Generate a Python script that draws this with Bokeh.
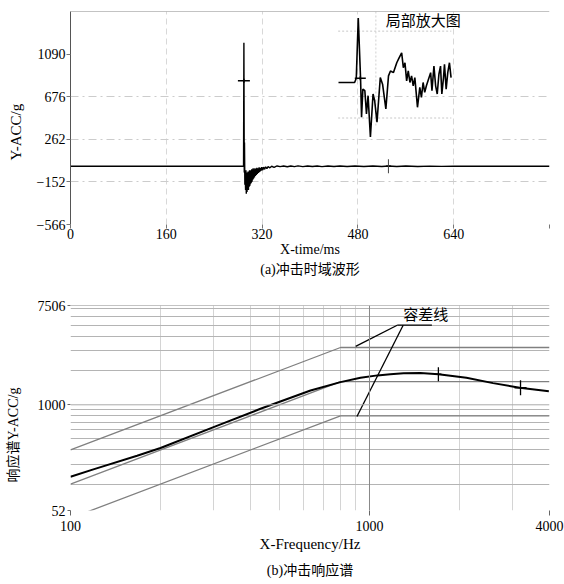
import math
from bokeh.plotting import figure
from bokeh.layouts import column
from bokeh.models import FixedTicker, Label, Span, Title
from bokeh.embed import file_html
from bokeh.resources import INLINE

SERIF = "Liberation Serif"
MIX = "Liberation Serif, Noto Sans CJK SC"
CJK = "Noto Sans CJK SC"

# ---------------- (a) time-domain data ----------------
time_ticks = [0, 160, 320, 480, 640, 800]
acc_ticks = [-566, -152, 262, 676, 1090]

time_ms = [0, 289.0, 289.6, 290.2, 290.6, 291.2, 291.8, 292.4, 293.0, 293.6, 294.2,
           294.8, 295.4, 296.0, 296.6, 297.2, 297.8, 298.4, 299.0, 299.6, 300.2,
           300.8, 301.4, 302.0, 302.6, 303.2, 303.8, 304.4, 305.0, 305.6, 306.4,
           307.2, 308.0, 308.8, 309.6, 310.4, 311.2, 312.0, 313.0, 314.0, 315.0,
           316.0, 317.0, 318.0, 319.5, 321.0, 322.5, 324.0, 326.0, 328.0, 330.0,
           333.0, 336.0, 340.0, 345, 350, 356, 362, 368, 374, 380, 388, 396, 404,
           412, 420, 430, 440, 450, 462, 475, 490, 505, 520, 531, 545, 560, 580,
           600, 620, 640, 800]
acc_g = [0, 0, 1200, -60, 230, -180, -60, -230, -40, -266, -80,
         -250, -60, -220, -50, -230, -70, -200, -40, -190, -50,
         -170, -40, -160, -30, -150, -40, -130, -20, -120, -30,
         -110, -20, -95, -25, -85, -15, -75, -20, -65, -10,
         -55, -15, -45, -10, -38, -8, -30, -5, -22, -4,
         -15, 0, -10, 3, -4, 2, -5, 3, -3, 4, -4, 3, -3,
         2, -4, 3, -3, 2, -3, 2, -2, 2, -2, 3, -2, 2, -2,
         1, -1, 0, 0]

# zoomed view (局部放大图) drawn inside the panel
inset_t = [447.6, 474.5, 477.3, 480.6, 484.4, 486.1, 488.3, 491.6, 494.3, 497.0,
           500.9, 505.3, 508.0, 511.9, 517.4, 521.2, 526.7, 531.1, 534.4, 539.4,
           544.9, 548.8, 553.1, 555.9, 558.6, 561.4, 564.1, 566.9, 569.6, 572.4,
           575.1, 579.5, 583.4, 586.1, 588.9, 591.6, 594.4, 597.1, 601.5, 603.7,
           607.0, 609.8, 612.5, 615.3, 618.0, 620.2, 623.0, 624.6, 627.4, 630.1,
           632.9, 635.6]
inset_g = [814, 814, 856, 1440, 862, 477, 750, 734, 509, 686,
           284, 702, 637, 429, 862, 798, 557, 878, 926, 910,
           1006, 1054, 1103, 958, 1006, 830, 926, 814, 878, 782,
           862, 573, 766, 669, 814, 718, 782, 830, 910, 734,
           974, 782, 702, 894, 974, 702, 862, 990, 750, 910,
           1006, 862]

# ---------------- (b) shock response spectrum data ----------------
freq_ticks = [100, 1000, 4000]
srs_ticks = [117, 1000, 7506]
srs_tick_text = {117: "52", 1000: "1000", 7506: "7506"}

ref_f = [100, 800, 4000]
ref_g = [200, 1600, 1600]
upper_g = [400, 3200, 3200]
lower_g = [100, 800, 800]

meas_f = [100, 120, 167, 200, 310, 432, 635, 800, 933, 1063, 1174, 1300, 1480,
          1700, 2110, 2590, 3180, 3980]
meas_g = [232, 271, 356, 416, 656, 922, 1338, 1585, 1733, 1817, 1860, 1895, 1904,
          1860, 1733, 1553, 1414, 1319]

grid_f = [200, 300, 400, 500, 600, 700, 800, 900, 2000, 3000]
grid_g = [200, 300, 400, 500, 600, 700, 800, 900, 2000, 3000, 4000, 5000, 6000, 7000]

# ================= figure (a) =================
p1 = figure(width=564, height=290, x_range=(0, 800), y_range=(-566, 1504),
            output_backend="svg", toolbar_location=None,
            min_border_left=68, min_border_right=11, min_border_top=11,
            min_border_bottom=66)
p1.outline_line_color = None

p1.xaxis.ticker = FixedTicker(ticks=time_ticks)
p1.xaxis.major_label_overrides = {800: ""}
p1.yaxis.ticker = FixedTicker(ticks=acc_ticks)
for ax in (p1.xaxis[0], p1.yaxis[0]):
    ax.major_label_text_font = SERIF
    ax.major_label_text_font_size = "14px"
    ax.major_label_text_color = "black"
    ax.minor_tick_line_color = None
    ax.major_tick_in = 0
    ax.major_tick_out = 4
    ax.major_tick_line_color = "#777777"
p1.xaxis.axis_line_color = None
p1.xaxis.major_label_standoff = 0
p1.xaxis.axis_label = "X-time/ms"
p1.xaxis.axis_label_text_font = SERIF
p1.xaxis.axis_label_text_font_size = "14px"
p1.xaxis.axis_label_text_font_style = "normal"
p1.xaxis.axis_label_text_color = "black"
p1.xaxis.axis_label_standoff = 0
p1.yaxis.axis_line_color = "#555555"
p1.yaxis.major_label_standoff = 1
p1.yaxis.axis_label = " "
p1.yaxis.axis_label_text_font_size = "1px"
p1.yaxis.axis_label_standoff = 6

p1.xgrid.ticker = FixedTicker(ticks=[160, 320, 480, 640])
p1.xgrid.grid_line_color = "#d8d8d8"
p1.xgrid.grid_line_dash = "6 4"
p1.ygrid.ticker = FixedTicker(ticks=[-152, 262, 676])
p1.ygrid.grid_line_color = "#cccccc"
p1.ygrid.grid_line_dash = "8 4 2 4"

p1.add_layout(Span(location=1504, dimension="width", line_color="#888888", line_width=1))

# inset grid (dotted)
p1.segment(x0=[447, 447], y0=[1313, 469], x1=[636, 636], y1=[1313, 469],
           line_color="#c8c8c8", line_dash="2 2", line_width=1)
p1.segment(x0=[510], y0=[1504], x1=[510], y1=[380],
           line_color="#d0d0d0", line_dash="2 2", line_width=1)

p1.line(time_ms, acc_g, line_color="black", line_width=1.4)
p1.line(inset_t, inset_g, line_color="black", line_width=1.6)

# cursor markers
p1.scatter([289.6], [830], marker="dash", size=12, line_color="black", line_width=1.5)
p1.scatter([289.6], [830], marker="dash", size=4, angle=math.pi / 2, line_color="black", line_width=1.5)
p1.scatter([484], [856], marker="dash", size=11, line_color="black", line_width=1.5)
p1.scatter([484], [856], marker="dash", size=4, angle=math.pi / 2, line_color="black", line_width=1.5)
p1.scatter([531], [0], marker="dash", size=5, line_color="black", line_width=1.5)
p1.scatter([531], [0], marker="dash", size=14, angle=math.pi / 2, line_color="#444444", line_width=1)

p1.add_layout(Label(x=589, y=1430, text="局部放大图", text_font=CJK, text_font_size="15px",
                    text_align="center", text_baseline="middle", text_color="black"))
p1.add_layout(Title(text="Y-ACC/g", align="left", offset=64, standoff=0,
                    text_font=SERIF, text_font_size="15px", text_font_style="normal",
                    text_color="black"), "left")
p1.add_layout(Title(text="(a)冲击时域波形", align="center", standoff=0,
                    text_font=MIX, text_font_size="14px", text_font_style="normal",
                    text_color="black"), "below")

# ================= figure (b) =================
p2 = figure(width=564, height=294, x_axis_type="log", y_axis_type="log",
            x_range=(100, 4000), y_range=(117, 7506),
            output_backend="svg", toolbar_location=None,
            min_border_left=70, min_border_right=15, min_border_top=15,
            min_border_bottom=74)
p2.outline_line_color = None

p2.xaxis.ticker = FixedTicker(ticks=freq_ticks)
p2.xaxis.major_label_overrides = {100: "100", 1000: "1000", 4000: "4000"}
p2.yaxis.ticker = FixedTicker(ticks=srs_ticks)
p2.yaxis.major_label_overrides = srs_tick_text
for ax in (p2.xaxis[0], p2.yaxis[0]):
    ax.major_label_text_font = SERIF
    ax.major_label_text_font_size = "14px"
    ax.major_label_text_color = "black"
    ax.minor_tick_line_color = None
    ax.major_tick_in = 0
    ax.major_tick_line_color = "#666666"
    ax.axis_line_color = None
p2.xaxis.major_tick_out = 5
p2.xaxis.major_label_standoff = 5
p2.xaxis.axis_label = "X-Frequency/Hz"
p2.xaxis.axis_label_text_font = SERIF
p2.xaxis.axis_label_text_font_size = "15px"
p2.xaxis.axis_label_text_font_style = "normal"
p2.xaxis.axis_label_text_color = "black"
p2.xaxis.axis_label_standoff = 2
p2.yaxis.major_tick_out = 3
p2.yaxis.major_label_standoff = 2
p2.yaxis.axis_label = " "
p2.yaxis.axis_label_text_font_size = "1px"
p2.yaxis.axis_label_standoff = 10

p2.xgrid.ticker = FixedTicker(ticks=grid_f)
p2.xgrid.grid_line_color = "#d4d4d4"
p2.ygrid.ticker = FixedTicker(ticks=grid_g)
p2.ygrid.grid_line_color = "#b4b4b4"
p2.add_layout(Span(location=1000, dimension="height", line_color="#888888", line_width=1))
p2.add_layout(Span(location=1000, dimension="width", line_color="#aaaaaa", line_width=1))
p2.add_layout(Span(location=7506, dimension="width", line_color="#888888", line_width=1))

p2.line(ref_f, upper_g, line_color="#808080", line_width=1.3)
p2.line(ref_f, lower_g, line_color="#808080", line_width=1.3)
p2.line(ref_f, ref_g, line_color="#808080", line_width=1.3)
p2.line(meas_f, meas_g, line_color="black", line_width=2)

p2.scatter([1700], [1860], marker="dash", size=14, angle=math.pi / 2, line_color="black", line_width=1.3)
p2.scatter([1700], [1860], marker="dash", size=6, line_color="black", line_width=1.3)
p2.scatter([3200], [1414], marker="dash", size=15, angle=math.pi / 2, line_color="black", line_width=1.3)
p2.scatter([3200], [1414], marker="dash", size=12, line_color="black", line_width=1.3)

# callout for tolerance lines
p2.segment(x0=[899, 1238, 1296], y0=[3276, 5030, 5030], x1=[1238, 1617, 908],
           y1=[5030, 5030, 788], line_color="black", line_width=1.3)
p2.add_layout(Label(x=1542, y=6430, text="容差线", text_font=CJK, text_font_size="15px",
                    text_align="center", text_baseline="middle", text_color="black"))

p2.add_layout(Title(text="响应谱Y-ACC/g", align="left", offset=28, standoff=0,
                    text_font=MIX, text_font_size="14px", text_font_style="normal",
                    text_color="black"), "left")
p2.add_layout(Title(text="(b)冲击响应谱", align="center", standoff=12,
                    text_font=MIX, text_font_size="14px", text_font_style="normal",
                    text_color="black"), "below")

layout = column(p1, p2)
open("out.html", "w").write(file_html(layout, INLINE))
